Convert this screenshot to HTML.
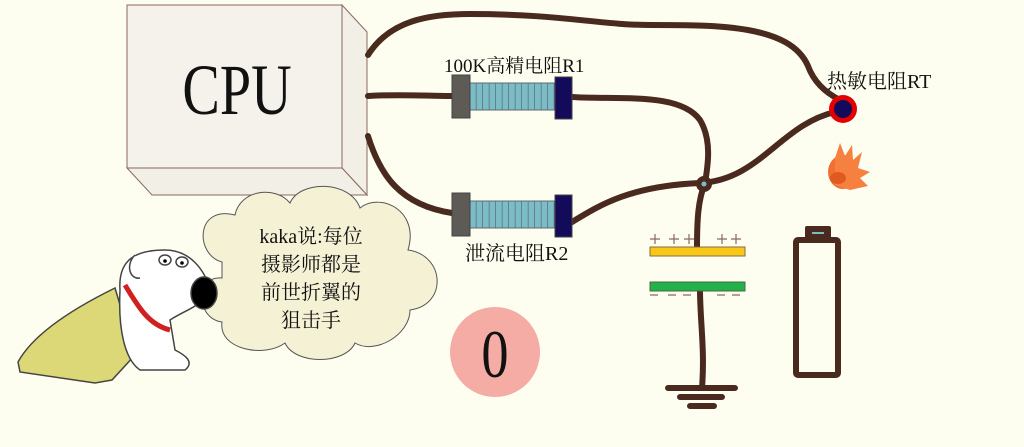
<!DOCTYPE html>
<html><head><meta charset="utf-8"><style>
html,body{margin:0;padding:0;background:#fefef0;}
svg{display:block}
text{font-family:"Liberation Serif","Noto Serif CJK SC",serif;fill:#111}
</style></head><body>
<svg width="1024" height="447" viewBox="0 0 1024 447" xmlns="http://www.w3.org/2000/svg">
<rect width="1024" height="447" fill="#fefef0"/>
<defs>
<pattern id="st" x="470" y="0" width="6.5" height="10" patternUnits="userSpaceOnUse">
<rect width="6.5" height="10" fill="#7bbcc6"/><rect x="5.8" width="0.8" height="10" fill="#5a6a70"/>
</pattern>
</defs>
<!-- CPU box -->
<polygon points="342,5 367,32 367,195 342,168" fill="#f1efe6" stroke="#8a6a60" stroke-width="1"/>
<polygon points="127,168 342,168 367,195 152,195" fill="#f1efe6" stroke="#8a6a60" stroke-width="1"/>
<rect x="127" y="5" width="215" height="163" fill="#f4f2ea" stroke="#8a6a60" stroke-width="1"/>
<text x="0" y="0" font-size="72" text-anchor="middle" transform="translate(237,114) scale(0.78,1)">CPU</text>
<!-- wires -->
<g fill="none" stroke="#4a2a1e" stroke-width="6" stroke-linecap="round">
<path d="M368,55 C390,20 430,14 470,14 C560,14 600,25 650,25 C720,25 790,25 808,66 C815,85 830,95 840,100"/>
<path d="M368,96 C400,94 430,96 452,96"/>
<path d="M572,97 C620,100 680,92 700,120 C712,140 708,165 705,183"/>
<path d="M368,136 C380,175 400,205 452,213"/>
<path d="M572,222 C600,205 630,186 700,183 C760,180 780,125 835,112"/>
<path d="M705,183 C698,200 697,220 697,248"/>
<path d="M700,290 C700,320 705,350 702,388"/>
<path d="M668,388 L735,388 M680,397 L722,397 M690,406 L714,406"/>
</g>
<circle cx="704" cy="184" r="8" fill="#4a2a1e"/>
<circle cx="704" cy="184" r="2.5" fill="#7bbcc6"/>
<!-- R1 -->
<rect x="470" y="83" width="85" height="27" fill="url(#st)" stroke="#5a6a70"/>
<rect x="452" y="75" width="18" height="43" fill="#5e5a55" stroke="#444"/>
<rect x="555" y="77" width="17" height="42" fill="#140a5a" stroke="#444"/>
<text x="444" y="72" font-size="19">100K高精电阻R1</text>
<!-- R2 -->
<rect x="470" y="201" width="85" height="27" fill="url(#st)" stroke="#5a6a70"/>
<rect x="452" y="193" width="18" height="43" fill="#5e5a55" stroke="#444"/>
<rect x="555" y="195" width="17" height="42" fill="#140a5a" stroke="#444"/>
<text x="465" y="260" font-size="20">泄流电阻R2</text>
<!-- thermistor -->
<circle cx="843" cy="109" r="14" fill="#e50000"/>
<circle cx="843" cy="109" r="9" fill="#140a5a"/>
<text x="827" y="88" font-size="20">热敏电阻RT</text>
<!-- fire -->
<g>
<ellipse cx="843" cy="172" rx="15" ry="17" fill="#f07030"/>
<path d="M835,158 L840,143 L845,156 L852,145 L853,160 L862,152 L858,168 L870,172 L860,178 L868,186 L850,190 L835,185 Z" fill="#f58040"/>
<ellipse cx="838" cy="178" rx="8" ry="6" fill="#e05a20"/>
</g>
<!-- capacitor -->
<rect x="650" y="247" width="95" height="9" fill="#f8c818" stroke="#8a6a40" stroke-width="1"/>
<rect x="650" y="282" width="95" height="9" fill="#22b24c" stroke="#4a6a40" stroke-width="1"/>
<g stroke="#8a6a60" stroke-width="1.2">
<path d="M650,239 H660 M655,234 V244 M669,239 H679 M674,234 V244 M684,239 H694 M689,234 V244 M717,239 H727 M722,234 V244 M731,239 H741 M736,234 V244"/>
<path d="M650,295 H658 M668,295 H676 M683,295 H691 M717,295 H725 M732,295 H740"/></g>
<!-- battery -->
<rect x="805" y="226" width="26" height="13" rx="2" fill="#4a2a1e"/>
<rect x="812" y="232" width="12" height="2" fill="#7bbcc6"/>
<rect x="796" y="240" width="42" height="135" rx="2" fill="none" stroke="#4a2a1e" stroke-width="6"/>
<!-- 0 circle -->
<circle cx="495" cy="352" r="45" fill="#f4aca4"/>
<text x="0" y="0" font-size="68" text-anchor="middle" transform="translate(495,377) scale(0.8,1)">0</text>
<!-- cloud -->
<g fill="#f4f1d4" stroke="#555" stroke-width="1">
<path d="M222,262 C195,255 195,205 235,215 C240,190 275,185 290,203 C300,180 350,180 360,208 C380,192 420,210 408,250 C445,255 448,305 410,310 C410,335 375,355 355,343 C345,365 295,365 285,343 C265,358 218,350 222,322 C195,318 195,275 222,278 Z"/>
</g>
<text x="311" y="243" font-size="20" text-anchor="middle">kaka说:每位</text>
<text x="311" y="271" font-size="20" text-anchor="middle">摄影师都是</text>
<text x="311" y="299" font-size="20" text-anchor="middle">前世折翼的</text>
<text x="311" y="327" font-size="20" text-anchor="middle">狙击手</text>
<!-- dog -->
<g stroke="#444" stroke-width="1.5">
<path d="M18,362 C30,340 60,315 115,288 L135,355 L112,380 L95,383 L20,372 Z" fill="#dcd878"/>
<path d="M120,290 C118,260 135,250 165,250 C190,250 205,270 210,290 C205,305 185,310 170,320 L175,350 C185,355 195,362 185,370 L140,370 C125,360 118,330 120,290 Z" fill="#fff"/>
<path d="M125,285 C140,310 150,325 170,330" fill="none" stroke="#d02020" stroke-width="5"/>
<ellipse cx="204" cy="293" rx="13" ry="16" fill="#000"/>
<ellipse cx="165" cy="260" rx="6" ry="5" fill="#fff"/>
<ellipse cx="182" cy="262" rx="6" ry="5" fill="#fff"/>
<path d="M135,255 C125,265 130,280 140,278" fill="#fff"/>
</g>
<circle cx="165" cy="261" r="1.8" fill="#000"/><circle cx="182" cy="263" r="1.8" fill="#000"/>
</svg>
</body></html>
